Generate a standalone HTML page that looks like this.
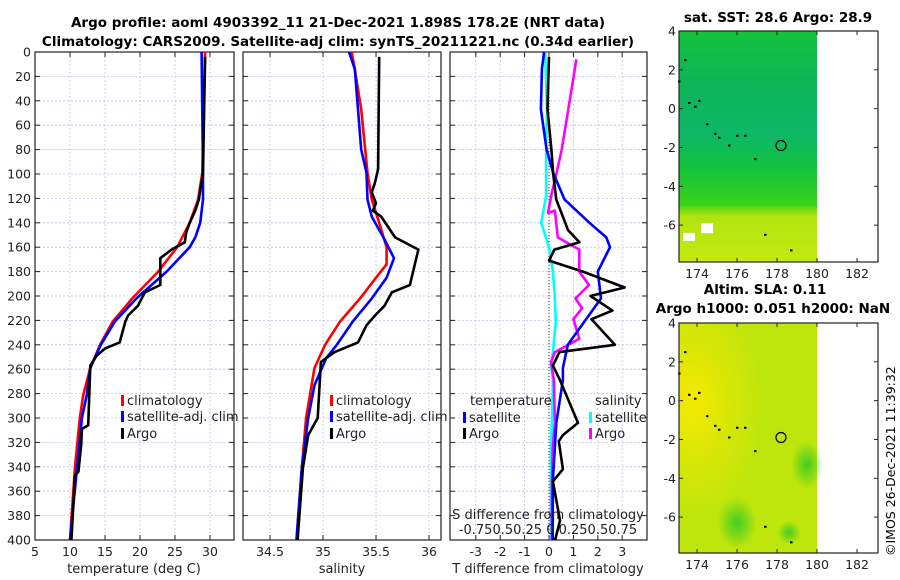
<!DOCTYPE html>
<html><head><meta charset="utf-8"><style>
body{margin:0;background:#fff;}
svg{display:block;font-family:"DejaVu Sans","Liberation Sans",sans-serif;}
</style></head><body>
<svg id="c" width="900" height="580" viewBox="0 0 900 580">
<defs>
<linearGradient id="sstg" x1="0" y1="0" x2="0" y2="1">
<stop offset="0" stop-color="#14c23c"/><stop offset="0.25" stop-color="#0cb45a"/><stop offset="0.45" stop-color="#0db767"/><stop offset="0.6" stop-color="#14c43a"/><stop offset="0.75" stop-color="#38d21a"/><stop offset="0.8" stop-color="#b0e410"/><stop offset="1" stop-color="#c4ea10"/>
</linearGradient>
<radialGradient id="slay" cx="0.1" cy="0.35" r="0.5"><stop offset="0" stop-color="#f4e800"/><stop offset="1" stop-color="#f4e800" stop-opacity="0"/></radialGradient>
<radialGradient id="slag1" cx="0.5" cy="0.5" r="0.5"><stop offset="0" stop-color="#44cc22"/><stop offset="1" stop-color="#44cc22" stop-opacity="0"/></radialGradient>
</defs>
<g font-weight="bold" font-size="13.5" text-anchor="middle">
<text x="338" y="27">Argo profile: aoml 4903392_11 21-Dec-2021 1.898S 178.2E (NRT data)</text>
<text x="338" y="46">Climatology: CARS2009. Satellite-adj clim: synTS_20211221.nc (0.34d earlier)</text>
<text x="778" y="22">sat. SST: 28.6 Argo: 28.9</text>
<text x="765" y="294">Altim. SLA: 0.11</text>
<text x="773" y="313">Argo h1000: 0.051 h2000: NaN</text>
</g>
<text transform="translate(895,556) rotate(-90)" font-size="12.5">©IMOS 26-Dec-2021 11:39:32</text>
<g id="plots"></g>
</svg>
<script>
// ---- data ----
const depthTicks=[0,20,40,60,80,100,120,140,160,180,200,220,240,260,280,300,320,340,360,380,400];
const tTicks=[5,10,15,20,25,30];
const sTicks=[34.5,35,35.5,36];
const dTicks=[-3,-2,-1,0,1,2,3];
// temperature
const tClimD=[0,99,121,140,160,180,202,221,240,259,281,300,341,400];
const tClimV=[29.3,28.9,28.3,27.1,25.3,22.6,18.9,16.1,14.3,12.9,11.9,11.4,10.7,10.0];
const tSatD=[0,99,121,140,152,160,180,202,221,240,259,281,300,341,400];
const tSatV=[28.8,29.0,29.0,28.6,27.9,27.1,23.8,19.5,16.4,14.4,12.9,12.4,11.7,11.0,10.0];
const tArgoD=[4,99,121,130,140,148,156,162,169,191,197,208,216,221,238,243,249,257,306,309,322,344,347,400];
const tArgoV=[29.3,29.0,28.4,27.9,27.1,26.6,26.4,24.5,22.9,22.9,20.7,19.7,18.3,17.9,17.1,15.0,13.8,12.9,12.6,11.7,11.6,11.2,10.7,10.2];
// salinity
const sClimD=[0,14,47,99,121,140,160,174,185,202,221,240,259,300,341,400];
const sClimV=[35.27,35.30,35.36,35.42,35.46,35.53,35.60,35.60,35.50,35.35,35.16,35.02,34.92,34.84,34.80,34.75];
const sSatD=[0,14,47,80,99,121,135,152,169,185,202,221,240,251,273,300,341,400];
const sSatV=[35.245,35.30,35.33,35.36,35.41,35.42,35.46,35.57,35.67,35.60,35.46,35.28,35.13,35.03,34.92,34.86,34.80,34.75];
const sArgoD=[4,96,107,115,124,130,135,152,162,169,191,197,208,216,224,238,246,254,300,314,341,400];
const sArgoV=[35.53,35.52,35.49,35.46,35.50,35.47,35.55,35.68,35.90,35.88,35.82,35.65,35.58,35.49,35.41,35.33,35.11,34.98,34.95,34.86,34.81,34.76];
// differences
const dTSatD=[0,14,47,80,99,121,140,152,160,180,202,221,240,259,269,304,351,400];
const dTSatV=[-0.2,-0.29,-0.33,-0.1,0.17,0.64,1.66,2.35,2.5,2.0,2.13,1.45,0.77,0.57,0.57,0.3,0.16,0.15];
const dTArgoD=[4,31,47,80,99,121,135,146,156,162,171,180,193,200,212,219,240,246,257,269,304,314,319,342,352,384,400];
const dTArgoV=[0.0,-0.04,-0.06,0.1,0.17,0.3,0.57,0.78,1.25,0.22,0.0,1.39,3.1,1.7,2.6,1.74,2.7,0.43,0.16,0.45,1.19,0.57,0.4,0.57,0.16,0.45,0.25];
const dSSatD=[0,47,80,118,140,160,180,202,221,246,257,269,304,323,400];
const dSSatV=[-0.04,-0.02,-0.03,-0.03,-0.08,0.0,0.04,0.06,0.07,0.04,0.02,0.04,0.03,0.02,0.02];
const dSArgoD=[6,31,80,102,115,132,130,152,162,180,191,202,210,219,235,246,254,269,304,323,352,400];
const dSArgoV=[0.28,0.23,0.13,0.07,0.03,-0.01,0.06,0.09,0.31,0.31,0.41,0.27,0.34,0.25,0.31,0.06,0.02,0.05,0.06,0.04,0.03,0.03];
// map features
const lonTicks=[174,176,178,180,182];
const latTicks=[4,2,0,-2,-4,-6];
const argoLon=178.2, argoLat=-1.9;
const islandLon=[173.4,173.6,173.9,174.1,174.5,174.9,175.1,175.6,176.0,176.4,176.9,173.1,177.4,178.7];
const islandLat=[2.5,0.3,0.1,0.4,-0.8,-1.3,-1.5,-1.9,-1.4,-1.4,-2.6,1.4,-6.5,-7.3];

// ---- drawing ----
const NS='http://www.w3.org/2000/svg';
const root=document.getElementById('plots');
function mk(tag,at,parent){const e=document.createElementNS(NS,tag);for(const k in at)e.setAttribute(k,at[k]);(parent||root).appendChild(e);return e;}
const Y0=52,Y1=540;
function yD(d){return Y0+(d/400)*(Y1-Y0);}
const P1={x0:35,x1:234,lo:5,hi:33.43};
const P2={x0:243,x1:441,lo:34.245,hi:36.113};
const P3={x0:450,x1:647,lo:-4.057,hi:4.016};
function xs(p,v){return p.x0+(v-p.lo)/(p.hi-p.lo)*(p.x1-p.x0);}
function xsS(v){return xs(P3,v*4);}

function panel(p,name,ticks,labels,showY){
  const g=mk('g',{});
  
  
  depthTicks.forEach(d=>{
    const l=mk('line',{x1:p.x0,x2:p.x1,y1:yD(d),y2:yD(d),stroke:'#b8c4e8','stroke-width':0.8,'stroke-dasharray':'2,2'},g);
    
    
    mk('line',{x1:p.x0,x2:p.x0+5,y1:yD(d),y2:yD(d),stroke:'#222'},g);
    mk('line',{x1:p.x1,x2:p.x1-5,y1:yD(d),y2:yD(d),stroke:'#222'},g);
    if(showY){const t=mk('text',{x:p.x0-4,y:yD(d)+4.5,'text-anchor':'end','font-size':12.5,fill:'#222'},g);t.textContent=d;
      
      }
  });
  ticks.forEach((v,i)=>{
    const x=xs(p,v);
    const l=mk('line',{x1:x,x2:x,y1:Y0,y2:Y1,stroke:'#b8c4e8','stroke-width':0.8,'stroke-dasharray':'2,2'},g);
    
    
    mk('line',{x1:x,x2:x,y1:Y1,y2:Y1-5,stroke:'#222'},g);
    mk('line',{x1:x,x2:x,y1:Y0,y2:Y0+5,stroke:'#222'},g);
    const t=mk('text',{x:x,y:Y1+16,'text-anchor':'middle','font-size':12.5,fill:'#222'},g);t.textContent=labels[i];
    
    
  });
  mk('rect',{x:p.x0,y:Y0,width:p.x1-p.x0,height:Y1-Y0,fill:'none',stroke:'#222','stroke-width':1.2},g);
  return g;
}
function series(g,vals,deps,fx,color,name){
  const pts=vals.map((v,i)=>fx(v).toFixed(1)+','+yD(deps[i]).toFixed(1)).join(' ');
  const l=mk('polyline',{points:pts,fill:'none',stroke:color,'stroke-width':2.6,'stroke-linejoin':'round'},g);
  
  
}
function txt(g,x,y,s,name,opt){const t=mk('text',Object.assign({x:x,y:y,'font-size':13,fill:'#222'},opt||{}),g);t.textContent=s;
  
  return t;}
function legItem(g,x,y,color,s,name){mk('rect',{x:x,y:y-10,width:3,height:11,fill:color},g);txt(g,x+6,y,s,name);}

// panel 1
const g1=panel(P1,'temperature-panel',tTicks,tTicks.map(String),true);
series(g1,tClimV,tClimD,v=>xs(P1,v),'#ff0000','temp-climatology-line');
series(g1,tSatV,tSatD,v=>xs(P1,v),'#0000ff','temp-satellite-line');
series(g1,tArgoV,tArgoD,v=>xs(P1,v),'#000000','temp-argo-line');
txt(g1,134,573,'temperature (deg C)','temperature-axis-title',{'text-anchor':'middle'});
legItem(g1,121,405,'#ff0000','climatology','legend-climatology');
legItem(g1,121,421,'#0000ff','satellite-adj. clim','legend-satellite');
legItem(g1,121,438,'#000000','Argo','legend-argo');
// panel 2
const g2=panel(P2,'salinity-panel',sTicks,sTicks.map(String),false);
series(g2,sClimV,sClimD,v=>xs(P2,v),'#ff0000','sal-climatology-line');
series(g2,sSatV,sSatD,v=>xs(P2,v),'#0000ff','sal-satellite-line');
series(g2,sArgoV,sArgoD,v=>xs(P2,v),'#000000','sal-argo-line');
txt(g2,342,573,'salinity','salinity-axis-title',{'text-anchor':'middle'});
legItem(g2,330,405,'#ff0000','climatology','legend-climatology-2');
legItem(g2,330,421,'#0000ff','satellite-adj. clim','legend-satellite-2');
legItem(g2,330,438,'#000000','Argo','legend-argo-2');
// panel 3
const g3=panel(P3,'difference-panel',dTicks,dTicks.map(String),false);
mk('line',{x1:xs(P3,0),x2:xs(P3,0),y1:Y0,y2:Y1,stroke:'#333','stroke-width':1,'stroke-dasharray':'1,2'},g3);
series(g3,dSSatV,dSSatD,xsS,'#00ffff','sdiff-satellite-line');
series(g3,dSArgoV,dSArgoD,xsS,'#ff00ff','sdiff-argo-line');
series(g3,dTSatV,dTSatD,v=>xs(P3,v),'#0000ff','tdiff-satellite-line');
series(g3,dTArgoV,dTArgoD,v=>xs(P3,v),'#000000','tdiff-argo-line');
txt(g3,548,573,'T difference from climatology','tdiff-axis-title',{'text-anchor':'middle'});
txt(g3,548,519,'S difference from climatology','sdiff-axis-title',{'text-anchor':'middle'});
txt(g3,548,534,'-0.750.50.25 0 0.250.50.75','sdiff-tick-labels',{'text-anchor':'middle'});
txt(g3,470,405,'temperature','legend-temperature-header');
txt(g3,595,405,'salinity','legend-salinity-header');
legItem(g3,463,422,'#0000ff','satellite','legend-tdiff-satellite');
legItem(g3,463,438,'#000000','Argo','legend-tdiff-argo');
legItem(g3,589,422,'#00ffff','satellite','legend-sdiff-satellite');
legItem(g3,589,438,'#ff00ff','Argo','legend-sdiff-argo');

// maps
function map(M,name,kind){
  const g=mk('g',{});
  
  
  const lx=v=>M.x0+(v-173.1)/(183.05-173.1)*(M.x1-M.x0);
  const ly=v=>M.y0+(4-v)/(4-M.bot)*(M.y1-M.y0);
  const xe=lx(180);
  if(kind==='sst'){
    mk('rect',{x:M.x0,y:M.y0,width:xe-M.x0,height:M.y1-M.y0,fill:'url(#sstg)'},g);
    mk('rect',{x:lx(173.3),y:ly(-6.4),width:12,height:8,fill:'#fff'},g);
    mk('rect',{x:lx(174.2),y:ly(-5.9),width:12,height:10,fill:'#fff'},g);
  } else {
    mk('rect',{x:M.x0,y:M.y0,width:xe-M.x0,height:M.y1-M.y0,fill:'#bfe60c'},g);
    mk('rect',{x:M.x0,y:M.y0,width:xe-M.x0,height:M.y1-M.y0,fill:'url(#slay)'},g);
    mk('ellipse',{cx:lx(179.5),cy:ly(-3.3),rx:16,ry:24,fill:'url(#slag1)'},g);
    mk('ellipse',{cx:lx(176),cy:ly(-6.3),rx:20,ry:26,fill:'url(#slag1)'},g);
    mk('ellipse',{cx:lx(178.6),cy:ly(-6.8),rx:12,ry:12,fill:'url(#slag1)'},g);
  }
  islandLon.forEach((lo,i)=>{mk('rect',{x:lx(lo)-1,y:ly(islandLat[i])-1,width:2.5,height:2,fill:'#000'},g);});
  const c=mk('circle',{cx:lx(argoLon),cy:ly(argoLat),r:5,fill:'none',stroke:'#000','stroke-width':1.2},g);
  
  
  mk('rect',{x:M.x0,y:M.y0,width:M.x1-M.x0,height:M.y1-M.y0,fill:'none',stroke:'#222','stroke-width':1.2},g);
  lonTicks.forEach(v=>{const x=lx(v);mk('line',{x1:x,x2:x,y1:M.y1,y2:M.y1-4,stroke:'#222'},g);mk('line',{x1:x,x2:x,y1:M.y0,y2:M.y0+4,stroke:'#222'},g);
    txt(g,x,M.y1+16,String(v),'lon-tick-label',{'text-anchor':'middle','font-size':12.5});});
  latTicks.forEach(v=>{const y=ly(v);mk('line',{x1:M.x0,x2:M.x0+4,y1:y,y2:y,stroke:'#222'},g);mk('line',{x1:M.x1,x2:M.x1-4,y1:y,y2:y,stroke:'#222'},g);
    txt(g,M.x0-3,y+4.5,String(v),'lat-tick-label',{'text-anchor':'end','font-size':12.5});});
}
map({x0:679,x1:878,y0:31,y1:262,bot:-7.9},'sst-map','sst');
map({x0:679,x1:878,y0:323,y1:553,bot:-7.85},'sla-map','sla');
</script>
</body></html>
